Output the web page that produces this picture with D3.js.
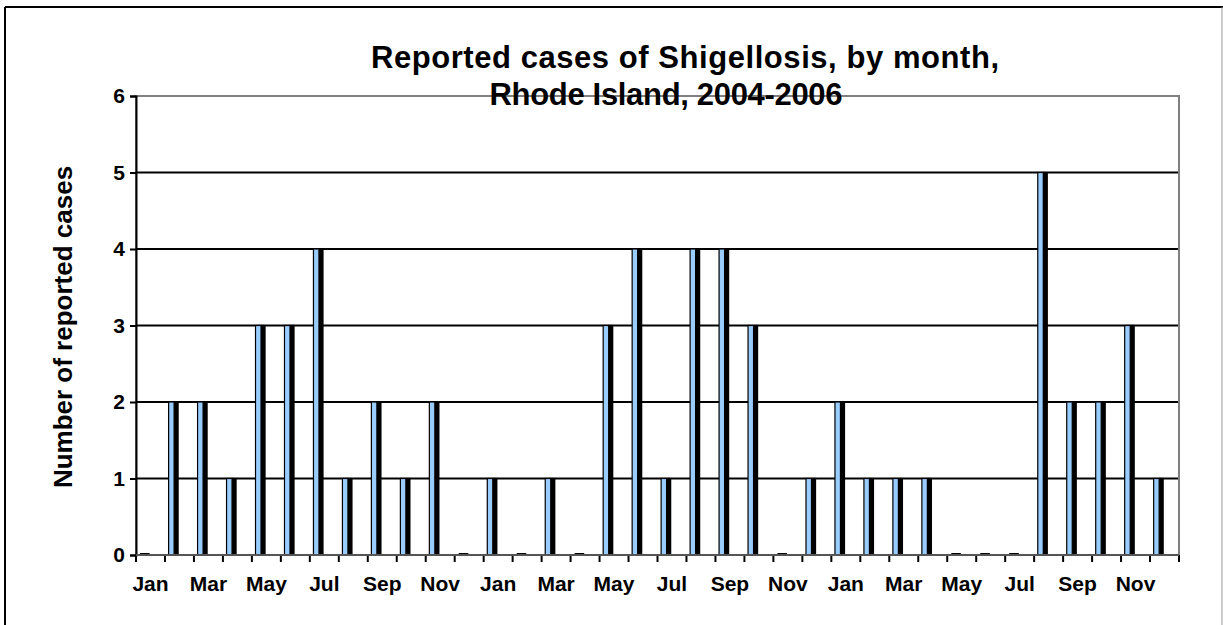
<!DOCTYPE html>
<html>
<head>
<meta charset="utf-8">
<script src="https://cdn.jsdelivr.net/npm/d3@7"></script>
<style>
  body { margin: 0; background: #fff; }
  svg { display: block; font-family: "Liberation Sans", Arial, sans-serif; }
  .tick text { font-weight: bold; fill: #000; }
</style>
</head>
<body>
<svg id="chart" width="1223" height="625"></svg>
<script>
// Reported cases of Shigellosis by month, Rhode Island 2004-2006

const monthNames = ["Jan", "Feb", "Mar", "Apr", "May", "Jun", "Jul", "Aug", "Sep", "Oct", "Nov", "Dec"];
const years = [2004, 2005, 2006];
const cases2004 = [0, 2, 2, 1, 3, 3, 4, 1, 2, 1, 2, 0];
const cases2005 = [1, 0, 1, 0, 3, 4, 1, 4, 4, 3, 0, 1];
const cases2006 = [2, 1, 1, 1, 0, 0, 0, 5, 2, 2, 3, 1];
const yTicks = [0, 1, 2, 3, 4, 5, 6];

const titleLines = ["Reported cases of Shigellosis, by month,", "Rhode Island, 2004-2006"];
const yTitle = "Number of reported cases";

// flatten to one row per month
const allCases = [cases2004, cases2005, cases2006];
const data = [];
years.forEach((yr, i) => {
    monthNames.forEach((m, j) => {
        data.push({ key: yr + "-" + m, month: m, idx: j, value: allCases[i][j] });
    });
});

const svg = d3.select("#chart");
const W = +svg.attr("width");

const margin = { left: 136, right: 1179, top: 96, bottom: 555 };

const x = d3.scaleBand()
    .domain(data.map(d => d.key))
    .range([margin.left, margin.right])
    .paddingInner(0)
    .paddingOuter(0);

const y = d3.scaleLinear()
    .domain([0, 6])
    .range([margin.bottom, margin.top]);

// outer frame (top + left black, right grey)
svg.append("line").attr("x1", 5).attr("x2", W).attr("y1", 7).attr("y2", 7)
    .attr("stroke", "#000").attr("stroke-width", 2);
svg.append("line").attr("x1", 5).attr("x2", 5).attr("y1", 7).attr("y2", 625)
    .attr("stroke", "#000").attr("stroke-width", 2);
svg.append("line").attr("x1", 1222).attr("x2", 1222).attr("y1", 7).attr("y2", 625)
    .attr("stroke", "#999").attr("stroke-width", 1);

// gridlines
svg.append("g")
    .selectAll("line")
    .data(yTicks.filter(t => t > 0 && t < 6))
    .join("line")
    .attr("x1", margin.left).attr("x2", margin.right)
    .attr("y1", d => y(d)).attr("y2", d => y(d))
    .attr("stroke", "#000").attr("stroke-width", 2);

// plot area border (grey)
svg.append("rect")
    .attr("x", margin.left).attr("y", margin.top)
    .attr("width", margin.right - margin.left)
    .attr("height", margin.bottom - margin.top)
    .attr("fill", "none").attr("stroke", "#808080").attr("stroke-width", 2);

// bars: light blue face + dark side
const bw = x.bandwidth();
const bars = svg.append("g")
    .selectAll("g")
    .data(data)
    .join("g");

bars.filter(d => d.value > 0).append("rect")
    .attr("x", d => x(d.key) + bw * 0.125)
    .attr("y", d => y(d.value))
    .attr("width", bw * 0.19)
    .attr("height", d => y(0) - y(d.value))
    .attr("fill", "#99ccff")
    .attr("stroke", "#000")
    .attr("stroke-width", 1.2);

bars.filter(d => d.value > 0).append("rect")
    .attr("x", d => x(d.key) + bw * 0.315)
    .attr("y", d => y(d.value) - 0.6)
    .attr("width", bw * 0.16)
    .attr("height", d => y(0) - y(d.value) + 0.6)
    .attr("fill", "#000");

// zero-value months show a flat dash
bars.filter(d => d.value === 0).append("rect")
    .attr("x", d => x(d.key) + bw * 0.14)
    .attr("y", y(0) - 2)
    .attr("width", bw * 0.33)
    .attr("height", 2)
    .attr("fill", "#000");

// y axis
const yAxis = svg.append("g")
    .attr("transform", `translate(${margin.left},0)`)
    .call(d3.axisLeft(y).tickValues(yTicks).tickFormat(d3.format("d")).tickSize(6).tickPadding(5));
yAxis.select(".domain").attr("stroke", "#000").attr("stroke-width", 2);
yAxis.selectAll(".tick line").attr("stroke", "#000").attr("stroke-width", 2);
yAxis.selectAll(".tick text").style("font-size", "21px");

// x axis labels (odd months only)
const xAxis = svg.append("g")
    .attr("transform", `translate(0,${margin.bottom})`)
    .call(d3.axisBottom(x)
        .tickSize(0)
        .tickPadding(21)
        .tickFormat(k => {
            const d = data.find(e => e.key === k);
            return d.idx % 2 === 0 ? d.month : "";
        }));
xAxis.select(".domain").remove();
xAxis.selectAll(".tick text").style("font-size", "21px");

// x boundary tick marks
const boundaries = data.map(d => x(d.key)).concat([margin.right]);
svg.append("g")
    .selectAll("line")
    .data(boundaries)
    .join("line")
    .attr("x1", d => d).attr("x2", d => d)
    .attr("y1", margin.bottom).attr("y2", margin.bottom + 7)
    .attr("stroke", "#000").attr("stroke-width", 2);

// x axis line
svg.append("line")
    .attr("x1", margin.left).attr("x2", margin.right)
    .attr("y1", margin.bottom).attr("y2", margin.bottom)
    .attr("stroke", "#555").attr("stroke-width", 2);

// title
svg.append("text")
    .attr("x", 685).attr("y", 68)
    .attr("text-anchor", "middle")
    .attr("textLength", 628)
    .style("font-size", "31px").style("font-weight", "bold")
    .text(titleLines[0]);
svg.append("text")
    .attr("x", 666).attr("y", 105)
    .attr("text-anchor", "middle")
    .attr("textLength", 353)
    .style("font-size", "31px").style("font-weight", "bold")
    .text(titleLines[1]);

// y axis title
svg.append("text")
    .attr("transform", "translate(72,327) rotate(-90)")
    .attr("text-anchor", "middle")
    .style("font-size", "26px").style("font-weight", "bold")
    .text(yTitle);
</script>
</body>
</html>
